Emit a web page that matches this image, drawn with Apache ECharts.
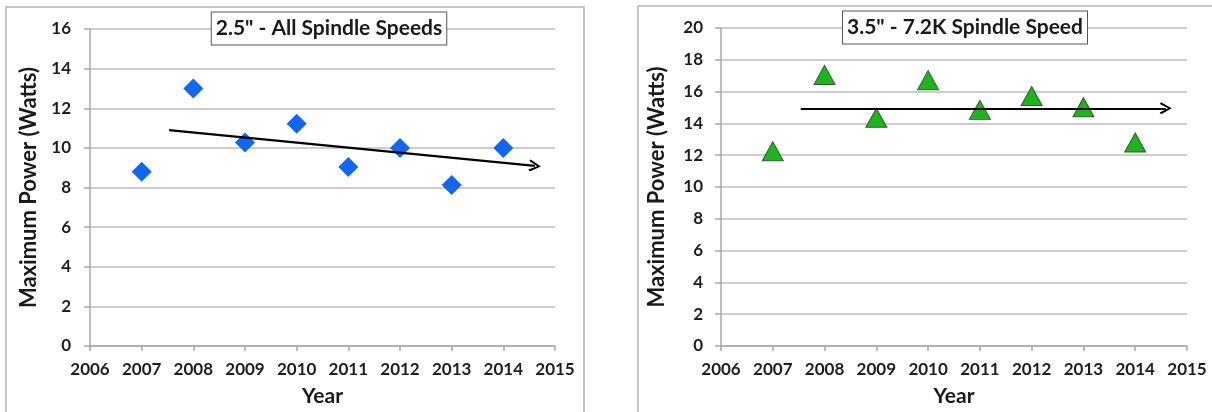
<!DOCTYPE html>
<html>
<head>
<meta charset="utf-8">
<script src="https://cdn.jsdelivr.net/npm/echarts@6/dist/echarts.min.js"></script>
<style>
  html, body { margin: 0; padding: 0; background: #ffffff; }
  #chart { width: 1212px; height: 412px; }
</style>
</head>
<body>
<div id="chart"></div>
<script>
// ---- data ----
const years = [2007, 2008, 2009, 2010, 2011, 2012, 2013, 2014];
const powerSmall = [8.8, 13.0, 10.27, 11.22, 9.04, 10.0, 8.12, 10.0];      // 2.5" all spindle speeds
const powerLarge = [12.25, 17.05, 14.35, 16.72, 14.85, 15.72, 15.02, 12.8]; // 3.5" 7.2K
const trendSmall = [[2007.53, 10.9], [2014.61, 9.09]];
const trendLarge = [[2007.54, 14.95], [2014.59, 14.95]];
const titleSmall = '2.5" - All Spindle Speeds';
const titleLarge = '3.5" - 7.2K Spindle Speed';
const yTitle = 'Maximum Power (Watts)';
const xTitle = 'Year';

const FONT = 'Lato';
const gridColor = '#bdbdbd';
const axisColor = '#a8a8a8';
const chevron = 'path://M0,10 L5,0 L10,10 L8.6,11.2 L5,3.4 L1.4,11.2 Z';

function pairs(xs, ys) { return xs.map((x, i) => [x, ys[i]]); }

function xAxisCfg(gridIndex) {
  return {
    type: 'value', gridIndex, min: 2006, max: 2015, interval: 1,
    name: xTitle, nameLocation: 'middle', nameGap: 40,
    nameTextStyle: { fontFamily: FONT, fontWeight: 'bold', fontSize: 21, color: '#1a1a1a' },
    axisLine: { show: true, onZero: false, lineStyle: { color: axisColor, width: 1.5 } },
    axisTick: { show: true, length: 5, lineStyle: { color: axisColor, width: 1.5 } },
    axisLabel: { fontFamily: FONT, fontWeight: 'bold', fontSize: 17, color: '#1e1e1e', margin: 15,
                 formatter: v => String(v) },
    splitLine: { show: false }
  };
}
function yAxisCfg(gridIndex, max, nameGap, margin) {
  return {
    type: 'value', gridIndex, min: 0, max, interval: 2,
    name: yTitle, nameLocation: 'middle', nameGap,
    nameTextStyle: { fontFamily: FONT, fontWeight: 'bold', fontSize: 22, color: '#1a1a1a' },
    axisLine: { show: true, lineStyle: { color: axisColor, width: 1.5 } },
    axisTick: { show: true, length: 6, lineStyle: { color: axisColor, width: 1.5 } },
    axisLabel: { fontFamily: FONT, fontWeight: 'bold', fontSize: 17, color: '#1e1e1e', margin },
    splitLine: { show: true, lineStyle: { color: gridColor, width: 1.5 } }
  };
}
function trendMark(tr) {
  return {
    silent: true, animation: false,
    symbol: ['none', chevron], symbolSize: 12,
    label: { show: false },
    lineStyle: { color: '#000', width: 2.2, type: 'solid' },
    emphasis: { disabled: true },
    data: [[{ coord: tr[0] }, { coord: tr[1] }]]
  };
}

const chart = echarts.init(document.getElementById('chart'), null, { renderer: 'canvas' });
chart.setOption({
  animation: false,
  backgroundColor: '#ffffff',
  grid: [
    { left: 90, top: 29, width: 465, height: 319 },
    { left: 721, top: 28, width: 466, height: 320 }
  ],
  xAxis: [xAxisCfg(0), xAxisCfg(1)],
  yAxis: [yAxisCfg(0, 16, 50, 19), yAxisCfg(1, 20, 53, 18)],
  graphic: [
    { type: 'rect', silent: true, z: -1, shape: { x: 6, y: 7, width: 578, height: 420 },
      style: { fill: 'none', stroke: '#b5b5b5', lineWidth: 1.5 } },
    { type: 'rect', silent: true, z: -1, shape: { x: 638, y: 6, width: 600, height: 420 },
      style: { fill: 'none', stroke: '#b5b5b5', lineWidth: 1.5 } },
    { type: 'text', z: 100, x: 329, y: 28.5,
      style: { text: titleSmall, font: 'bold 21px Lato', fill: '#1a1a1a', align: 'center', verticalAlign: 'middle',
               backgroundColor: '#ffffff', borderColor: '#555555', borderWidth: 1, padding: [6, 4, 5, 4] } },
    { type: 'text', z: 100, x: 965, y: 27.5,
      style: { text: titleLarge, font: 'bold 21px Lato', fill: '#1a1a1a', align: 'center', verticalAlign: 'middle',
               backgroundColor: '#ffffff', borderColor: '#555555', borderWidth: 1, padding: [6, 4, 5, 4] } }
  ],
  series: [
    {
      type: 'scatter', xAxisIndex: 0, yAxisIndex: 0,
      data: pairs(years, powerSmall),
      symbol: 'diamond', symbolSize: [20, 20],
      itemStyle: { color: '#1266f0', opacity: 1 },
      emphasis: { disabled: true },
      markLine: trendMark(trendSmall),
      z: 3
    },
    {
      type: 'scatter', xAxisIndex: 1, yAxisIndex: 1,
      data: pairs(years, powerLarge),
      symbol: 'triangle', symbolSize: [21, 19],
      itemStyle: { color: '#1db41d', borderColor: '#2d5e2d', borderWidth: 1, opacity: 1 },
      emphasis: { disabled: true },
      markLine: trendMark(trendLarge),
      z: 3
    }
  ]
});
</script>
</body>
</html>
